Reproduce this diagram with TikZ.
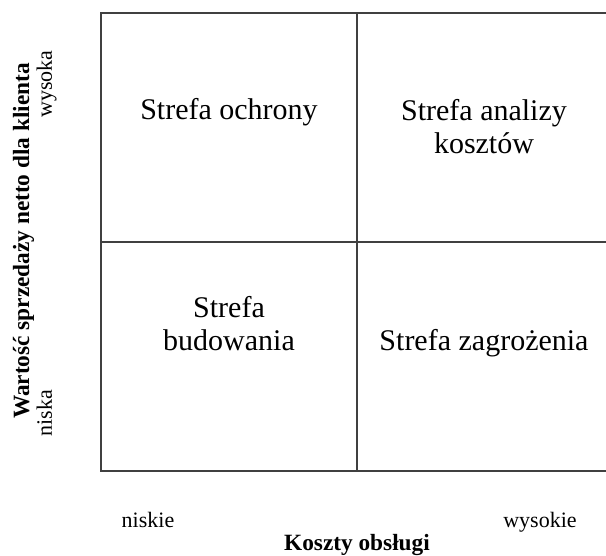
\documentclass[tikz,border=0pt]{standalone}
\usepackage{fontspec}
\setmainfont{Liberation Serif}
\begin{document}
\begin{tikzpicture}[x=1pt,y=-1pt,
  grid/.style={draw=black!75, line width=1.3pt},
  cell/.style={font=\fontsize{30}{33.5}\selectfont, align=center, anchor=base, inner sep=0pt},
  tick/.style={font=\fontsize{22}{26}\selectfont, anchor=base, inner sep=0pt},
  axis/.style={font=\fontsize{23.3}{27}\selectfont\bfseries, anchor=base, inner sep=0pt}]
\clip (0,0) rectangle (606,556);
\fill[white] (0,0) rectangle (606,556);
\draw[grid] (101,13) rectangle (613,471);
\draw[grid] (357,13) -- (357,471);
\draw[grid] (101,242) -- (613,242);
\node[cell] (ochrony) at (229,120) {Strefa ochrony};
\node[cell] (analizy) at (484,154) {Strefa analizy\\kosztów};
\node[cell] (budowania) at (229,351) {Strefa\\budowania};
\node[cell] (zagrozenia) at (484,351) {Strefa zagrożenia};
\node[tick] (niskie) at (148,527) {niskie};
\node[tick] (wysokie) at (540,527) {wysokie};
\node[axis] (koszty) at (357,550) {Koszty obsługi};
\node[axis, rotate=90] (wartosc) at (29,241) {Wartość sprzedaży netto dla klienta};
\node[tick, rotate=90] (wysoka) at (52,84) {wysoka};
\node[tick, rotate=90] (niska) at (52,413) {niska};
\end{tikzpicture}
\end{document}
